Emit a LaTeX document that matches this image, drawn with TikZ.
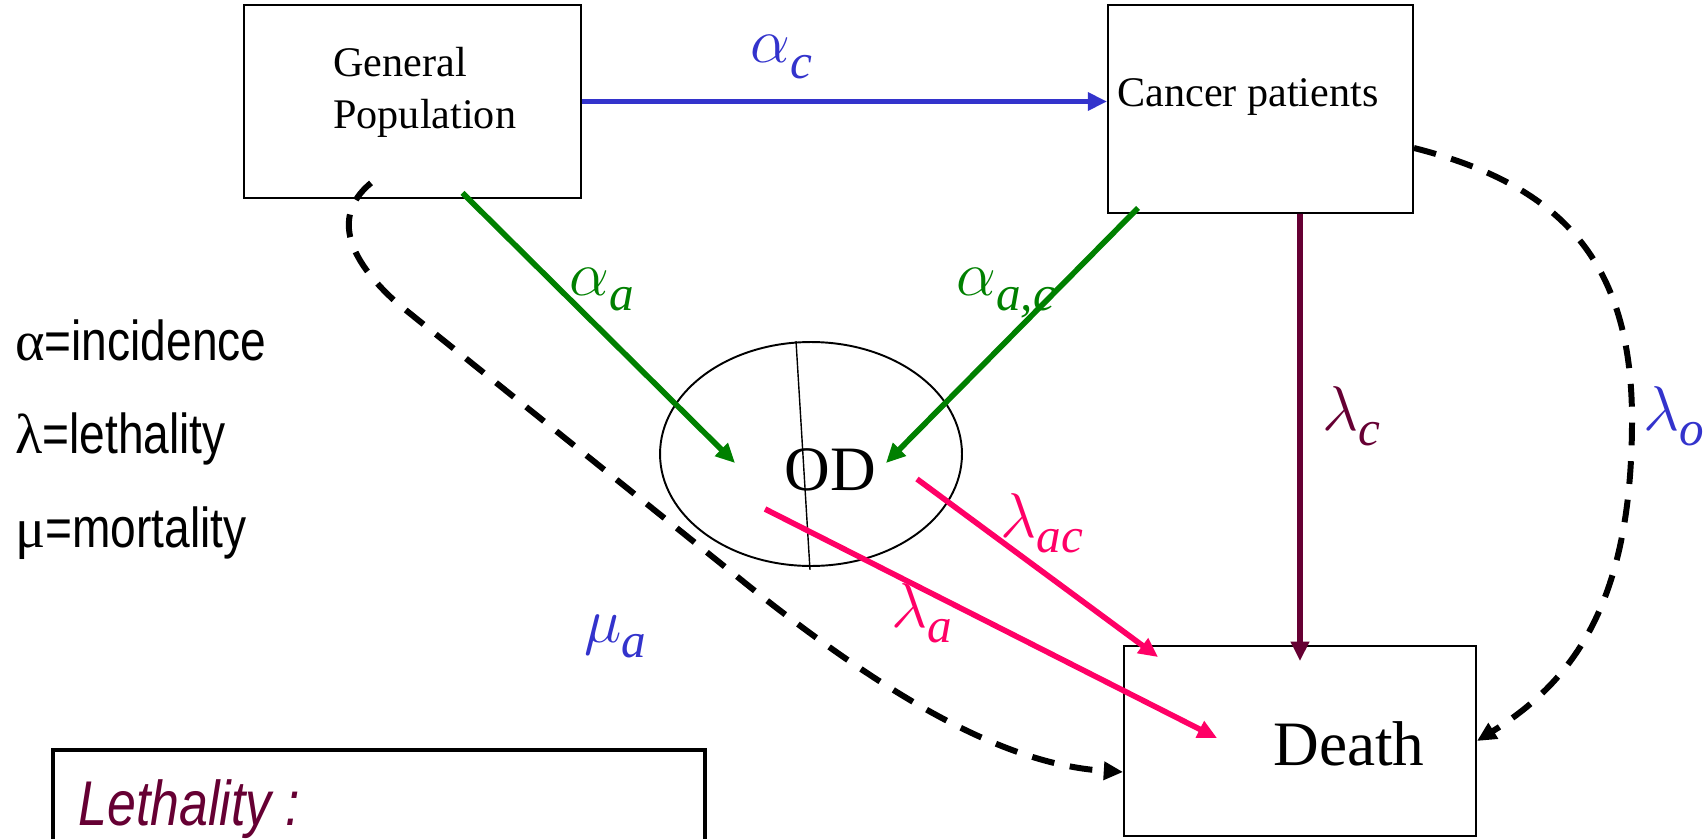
\RequirePackage{fix-cm}
\documentclass[tikz,border=0pt]{standalone}
\usepackage{fontspec}
\setmainfont{Liberation Serif}
\newfontfamily\narrowsans[FakeStretch=0.82]{Liberation Sans}
\usepackage{xcolor}
\usetikzlibrary{
    positioning,
    arrows.meta,
    shapes.geometric,
}
\definecolor{incblue}{HTML}{3333CC}
\definecolor{incgreen}{HTML}{008000}
\definecolor{lethmaroon}{HTML}{660033}
\definecolor{lethpink}{HTML}{FF0066}
\tikzset{
    % Box styles
    state box/.style={rectangle, draw, line width=1.1pt, inner sep=0pt},
    box text/.style={inner sep=0pt, font=\fontsize{24}{29.6}\selectfont},
    big text/.style={inner sep=0pt, font=\fontsize{36}{40}\selectfont},
    % Arrow styles
    flow/.style={-{Triangle[length=11pt, width=10pt]}, line width=3.2pt},
    dash flow/.style={flow, black, dash pattern=on 13pt off 9pt, line width=3.4pt},
    % Annotation styles
    rate/.style={inner sep=0pt, anchor=base west},
    legend/.style={inner sep=0pt, anchor=base west, font=\narrowsans\fontsize{32}{36}\selectfont},
}
\newcommand{\ratelabel}[2]{\fontsize{36}{40}\selectfont$#1$\raisebox{-9pt}{\fontsize{28}{30}\selectfont\itshape #2}}

\begin{document}
\begin{tikzpicture}[x=0.02cm, y=-0.02cm]
    \useasboundingbox (0,0) rectangle (1706,838);
    \clip (0,0) rectangle (1706,838);

    % Boxes
    \node[state box, minimum width=6.74cm, minimum height=3.86cm] (gp) at (412.5,101.5) {};
    \node[state box, minimum width=6.10cm, minimum height=4.16cm] (cp) at (1260.5,109) {};
    \node[state box, minimum width=7.04cm, minimum height=3.80cm] (death) at (1300,741) {};
    \node[ellipse, draw, line width=1.1pt, minimum width=6.04cm, minimum height=4.48cm, inner sep=0pt] (od) at (811,454) {};
    \node[state box, line width=2.5pt, minimum width=13.04cm, minimum height=2.4cm] (lethbox) at (379,810) {};

    % Box texts
    \node[box text, anchor=north west, align=left] (gptext) at (333,47) {General\\Population};
    \node[box text, anchor=base west] (cptext) at (1117,107) {Cancer patients};
    \node[big text, anchor=base west] (deathtext) at (1273,765) {Death};
    \node[big text, anchor=base] (odtext) at (830,490) {OD};
    \draw[line width=0.8pt] ([xshift=-0.3cm]od.north) -- ([xshift=-0.02cm, yshift=-0.06cm]od.south);

    % Arrows
    \draw[flow, incblue] (gp.east) -- (gp.east -| cp.west);
    \draw[flow, incgreen] ([xshift=1.0cm, yshift=0.12cm]gp.south) -- ([xshift=-1.52cm, yshift=-0.18cm]od.center);
    \draw[flow, incgreen] ([xshift=-2.45cm, yshift=0.12cm]cp.south) -- ([xshift=1.5cm, yshift=-0.18cm]od.center);
    \draw[flow, lethmaroon] ([xshift=0.79cm]cp.south) -- ([yshift=-0.32cm]death.north);
    \draw[flow, lethpink] ([xshift=2.12cm, yshift=-0.5cm]od.center) -- ([xshift=0.7cm, yshift=-0.24cm]death.north west);
    \draw[flow, lethpink] ([xshift=-0.92cm, yshift=-1.1cm]od.center) -- ([xshift=1.88cm, yshift=0.06cm]death.west);
    \draw[dash flow] ([yshift=-0.78cm]cp.east) .. controls (1560,185) and (1632,260) .. (1632,420)
        .. controls (1632,600) and (1575,680) .. (death.east);
    \draw[dash flow] ([xshift=-0.83cm, yshift=0.32cm]gp.south) .. controls (338,210) and (338,250) .. (397,303)
        -- (760,595) .. controls (900,705) and (1010,765) .. ([yshift=-0.62cm]death.west);

    % Rate labels
    \node[rate, text=incblue] (alphac) at (750,63) {\ratelabel{\alpha}{c}};
    \node[rate, text=incgreen] (alphaa) at (569,295) {\ratelabel{\alpha}{a}};
    \node[rate, text=incgreen] (alphaac) at (956,295) {\ratelabel{\alpha}{a,c}};
    \node[rate, text=lethmaroon] (lambdac) at (1322,430) {\ratelabel{\lambda}{c}};
    \node[rate, text=incblue] (lambdao) at (1643,430) {\ratelabel{\lambda}{o}};
    \node[rate, text=lethpink] (lambdaac) at (1000,537) {\ratelabel{\lambda}{ac}};
    \node[rate, text=lethpink] (lambdaa) at (891,627) {\ratelabel{\lambda}{a}};
    \node[rate, text=incblue] (mua) at (584,642) {\ratelabel{\mu}{a}};

    % Legend
    \node[legend] (incid) at (15,360) {{\rmfamily α}=incidence};
    \node[legend] (lethal) at (15,453) {{\rmfamily λ}=lethality};
    \node[legend] (mortal) at (15,547) {{\rmfamily μ}=mortality};
    \node[legend, text=lethmaroon, font=\narrowsans\itshape\fontsize{36}{40}\selectfont] (lethtitle) at (78,825) {Lethality :};
\end{tikzpicture}
\end{document}
